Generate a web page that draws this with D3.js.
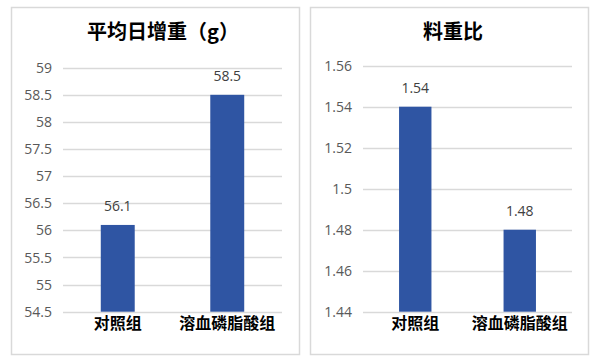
<!DOCTYPE html>
<html>
<head>
<meta charset="utf-8">
<script src="https://cdn.jsdelivr.net/npm/d3@7"></script>
<style>
  body { margin: 0; background: #fff; }
  svg { display: block; }
</style>
</head>
<body>
<div id="chart"></div>
<script>
// data
var groups = ["对照组", "溶血磷脂酸组"];
var gainValues = [56.1, 58.5];
var ratioValues = [1.54, 1.48];
var gainTicks = [54.5, 55, 55.5, 56, 56.5, 57, 57.5, 58, 58.5, 59];
var ratioTicks = [1.44, 1.46, 1.48, 1.50, 1.52, 1.54, 1.56];
var gainTitle = "平均日增重（g）";
var ratioTitle = "料重比";

var svg = d3.select("#chart")
	.append("svg")
	.attr("width", 601)
	.attr("height", 363)

function drawPanel(p) {
	var g = svg.append("g")

	// frame
	g.append("rect")
		.attr("x", p.box[0] + 0.5)
		.attr("y", p.box[1] + 0.5)
		.attr("width", p.box[2])
		.attr("height", p.box[3])
		.attr("fill", "#fff")
		.attr("stroke", "#d9d9d9")
		.attr("stroke-width", 1.5)

	var x = d3.scaleBand()
		.domain(groups)
		.range([p.left, p.right])
		.paddingInner(0.69)
		.paddingOuter(0.345)

	var y = d3.scaleLinear()
		.domain(d3.extent(p.ticks))
		.range([p.bottom, p.top])

	// gridlines
	g.selectAll(".grid")
		.data(p.ticks)
		.enter().append("line")
		.attr("x1", p.left)
		.attr("x2", p.right)
		.attr("y1", function (d) { return Math.round(y(d)) + 0.5 })
		.attr("y2", function (d) { return Math.round(y(d)) + 0.5 })
		.attr("stroke", "#d9d9d9")
		.attr("stroke-width", 1.3)

	// tick labels
	g.selectAll(".tick")
		.data(p.ticks)
		.enter().append("text")
		.attr("x", p.labelX)
		.attr("y", function (d) { return y(d) })
		.attr("dy", "0.36em")
		.attr("text-anchor", "end")
		.attr("font-family", "'Open Sans', sans-serif")
		.attr("font-size", 14)
		.attr("fill", "#595959")
		.text(function (d) { return String(+d.toFixed(2)) })

	// bars
	g.selectAll(".bar")
		.data(p.values)
		.enter().append("rect")
		.attr("x", function (d, i) { return x(groups[i]) })
		.attr("y", function (d) { return y(d) })
		.attr("width", x.bandwidth())
		.attr("height", function (d) { return p.bottom - y(d) })
		.attr("fill", "#2f55a3")

	// value labels
	g.selectAll(".val")
		.data(p.values)
		.enter().append("text")
		.attr("x", function (d, i) { return x(groups[i]) + x.bandwidth() / 2 })
		.attr("y", function (d) { return y(d) - 14 })
		.attr("text-anchor", "middle")
		.attr("font-family", "'Open Sans', sans-serif")
		.attr("font-size", 14)
		.attr("fill", "#404040")
		.text(function (d) { return d })

	// categories
	g.selectAll(".cat")
		.data(groups)
		.enter().append("text")
		.attr("x", function (d) { return x(d) + x.bandwidth() / 2 })
		.attr("y", 329)
		.attr("text-anchor", "middle")
		.attr("font-family", "'Noto Sans CJK SC', sans-serif")
		.attr("font-weight", "bold")
		.attr("font-size", 16)
		.attr("fill", "#000")
		.text(function (d) { return d })

	// title
	g.append("text")
		.attr("x", p.titleX)
		.attr("y", 39)
		.attr("text-anchor", "middle")
		.attr("font-family", "'Noto Sans CJK SC', sans-serif")
		.attr("font-weight", "bold")
		.attr("font-size", 20)
		.attr("fill", "#000")
		.text(p.title)
}

drawPanel({
	box: [11, 7, 288, 347],
	left: 63, right: 282, top: 67.7, bottom: 311.7,
	labelX: 52, titleX: 163,
	ticks: gainTicks, values: gainValues, title: gainTitle
})

drawPanel({
	box: [310, 7, 278, 347],
	left: 363, right: 572, top: 65.7, bottom: 311.7,
	labelX: 352, titleX: 453,
	ticks: ratioTicks, values: ratioValues, title: ratioTitle
})
</script>
</body>
</html>
